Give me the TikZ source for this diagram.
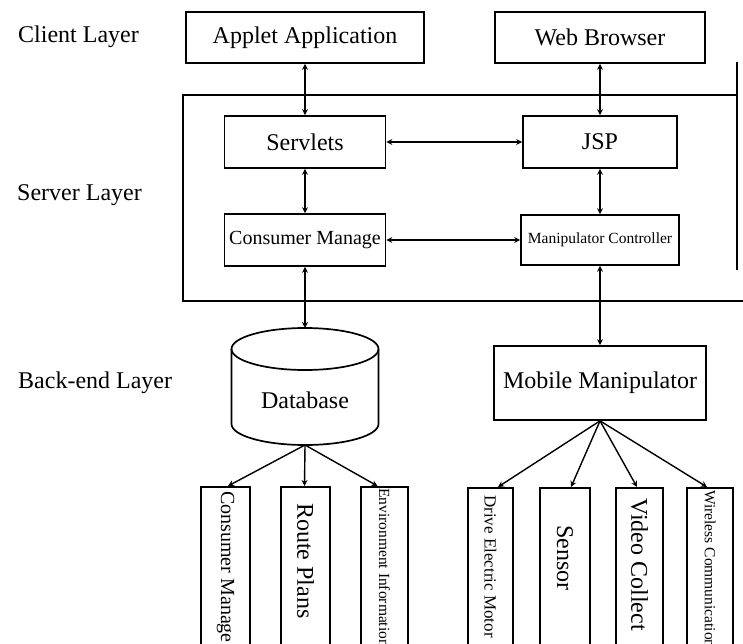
\documentclass[tikz,border=0pt]{standalone}
\usepackage{fontspec}
\setmainfont{Liberation Serif}
\usetikzlibrary{arrows.meta}
\begin{document}
\begin{tikzpicture}[x=1pt,y=-1pt,
  box/.style={draw,line width=1.7pt,inner sep=0pt,font=\fontsize{24}{26}\selectfont},
  tallbox/.style={draw,line width=1.7pt,inner sep=0pt,anchor=north,minimum height=220pt},
  vlabel/.style={rotate=-90,anchor=west,inner sep=0pt},
  link/.style={line width=1.6pt,{Stealth[length=6pt,width=6pt]}-{Stealth[length=6pt,width=6pt]}},
  fan/.style={line width=1.4pt,-{Stealth[length=6pt,width=6pt]}},
  layer/.style={anchor=west,inner sep=0pt,font=\fontsize{24}{26}\selectfont}]
\useasboundingbox (0,0) rectangle (743,644);
\clip (0,0) rectangle (743,644);

% layer labels
\node[layer] (client) at (18,37) {Client Layer};
\node[layer] (server) at (17,195) {Server Layer};
\node[layer] (backend) at (18,383) {Back-end Layer};

% server frame
\draw[line width=2.2pt] (737,95) -- (183,95) -- (183,301) -- (760,301);
\draw[line width=2pt] (737,62) -- (737,270);

% boxes
\node[box,minimum width=238pt,minimum height=51pt] (applet) at (305,37.5) {Applet Application};
\node[box,minimum width=210pt,minimum height=51pt] (web) at (600,37.5) {Web Browser};
\node[box,minimum width=161pt,minimum height=52pt] (servlets) at (305,142) {Servlets};
\node[box,minimum width=154pt,minimum height=52pt] (jsp) at (600,142) {JSP};
\node[box,minimum width=161pt,minimum height=52pt,font=\fontsize{20}{22}\selectfont] (consumer) at (305,240) {Consumer Manage};
\node[box,minimum width=158pt,minimum height=50pt,font=\fontsize{15.5}{17}\selectfont] (mctrl) at (600,240) {Manipulator Controller};
\node[box,minimum width=212pt,minimum height=74pt] (mobile) at (600,383) {Mobile Manipulator};

% database cylinder
\draw[line width=1.7pt] (231.5,349) -- (231.5,424)
  arc[start angle=180,end angle=360,x radius=73.5pt,y radius=21pt] -- (378.5,349);
\draw[line width=1.7pt] (305,349) ellipse [x radius=73.5pt,y radius=21pt];
\node[inner sep=0pt,font=\fontsize{24}{26}\selectfont] (db) at (305,400) {Database};
\coordinate (dbtop) at (305,328);
\coordinate (dbbot) at (305,445);

% bottom boxes
\node[tallbox,minimum width=49pt] (bcm) at (225.5,486) {};
\node[tallbox,minimum width=49pt] (brp) at (305.5,486) {};
\node[tallbox,minimum width=47pt] (benv) at (384.5,486) {};
\node[tallbox,minimum width=45pt] (bdrive) at (490.5,487) {};
\node[tallbox,minimum width=50pt] (bsensor) at (565,487) {};
\node[tallbox,minimum width=47pt] (bvideo) at (639.5,487) {};
\node[tallbox,minimum width=46pt] (bwire) at (710,487) {};

\node[vlabel,font=\fontsize{20}{22}\selectfont] (tcm) at ([yshift=-5pt]bcm.north) {Consumer Manage};
\node[vlabel,font=\fontsize{24}{26}\selectfont] (trp) at ([yshift=-17pt]brp.north) {Route Plans};
\node[vlabel,font=\fontsize{15.5}{17}\selectfont] (tenv) at ([yshift=-2pt]benv.north) {Environment Information};
\node[vlabel,font=\fontsize{17}{19}\selectfont] (tdrive) at ([yshift=-8pt]bdrive.north) {Drive Electric Motor};
\node[vlabel,font=\fontsize{24}{26}\selectfont] (tsensor) at ([yshift=-38pt]bsensor.north) {Sensor};
\node[vlabel,font=\fontsize{24}{26}\selectfont] (tvideo) at ([yshift=-11pt]bvideo.north) {Video Collect};
\node[vlabel,font=\fontsize{15.5}{17}\selectfont] (twire) at ([yshift=-3pt]bwire.north) {Wireless Communication};

% connectors
\draw[link] (applet) -- (servlets);
\draw[link] (web) -- (jsp);
\draw[link] (servlets) -- (jsp);
\draw[link] (servlets) -- (consumer);
\draw[link] (jsp) -- (mctrl);
\draw[link] (consumer) -- (mctrl);
\draw[link] (consumer) -- (dbtop);
\draw[link] (mctrl) -- (mobile);

\draw[fan] (dbbot) -- ([xshift=2.5pt]bcm.north);
\draw[fan] (dbbot) -- ([xshift=-1pt]brp.north);
\draw[fan] (dbbot) -- ([xshift=-7pt]benv.north);
\draw[fan] (mobile.south) -- ([xshift=7.5pt]bdrive.north);
\draw[fan] (mobile.south) -- ([xshift=6pt]bsensor.north);
\draw[fan] (mobile.south) -- ([xshift=-2.5pt]bvideo.north);
\draw[fan] (mobile.south) -- ([xshift=-3pt]bwire.north);
\end{tikzpicture}
\end{document}
